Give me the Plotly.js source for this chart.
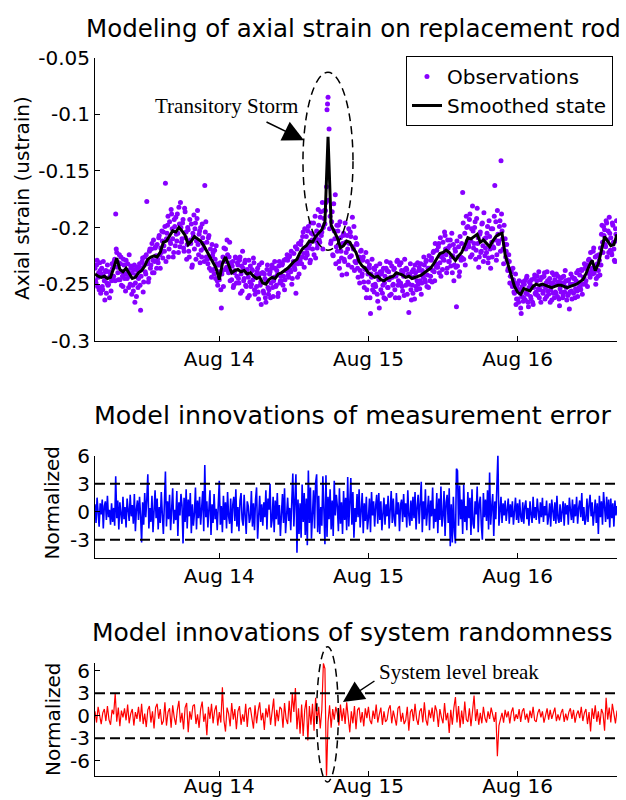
<!DOCTYPE html>
<html>
<head>
<meta charset="utf-8">
<script src="https://cdn.plot.ly/plotly-3.0.1.min.js"></script>
<style>
  html, body { margin: 0; padding: 0; background: #ffffff; }
  #chart { width: 626px; height: 800px; }
</style>
</head>
<body>
<div id="chart"></div>
<script>
// ---------------- DATA ----------------
// Series start Aug 13 04:00 and run 84 hours
const startTime = '2012-08-13T04:00:00Z';
const endTimeLabel = '2012-08-16 16:00';
const startTimeLabel = '2012-08-13 04:00';
const obsStepMin = 10;      // observations + measurement innovations: every 10 min
const obsOffsetMin = 5;     // second observation set, shifted by 5 min
const smoothStepMin = 30;   // smoothed state: every 30 min
const sysStepMin = 15;      // system innovations: every 15 min

const tickDates = ['2012-08-14', '2012-08-15', '2012-08-16'];
const tickLabels = ['Aug 14', 'Aug 15', 'Aug 16'];

const strainTickVals = [-0.3, -0.25, -0.2, -0.15, -0.1, -0.05];
const strainTickText = ['-0.3', '-0.25', '-0.2', '-0.15', '-0.1', '-0.05'];
const measTickVals = [-3, 0, 3, 6];
const measTickText = ['-3', '0', '3', '6'];
const sysTickVals = [-6, -3, 0, 3, 6];
const sysTickText = ['-6', '-3', '0', '3', '6'];
const thresholds = [3, -3];

// Observations (ustrain), 6 per hour, on the hour + 10-min steps
const observations = [
 -0.236,-0.249,-0.229,-0.244,-0.255,-0.238,
 -0.241,-0.252,-0.230,-0.247,-0.239,-0.258,
 -0.233,-0.250,-0.262,-0.240,-0.247,-0.236,
 -0.243,-0.228,-0.188,-0.222,-0.240,-0.231,
 -0.246,-0.226,-0.239,-0.252,-0.233,-0.241,
 -0.229,-0.245,-0.238,-0.224,-0.250,-0.236,
 -0.240,-0.256,-0.233,-0.249,-0.261,-0.238,
 -0.245,-0.232,-0.273,-0.236,-0.227,-0.248,
 -0.226,-0.241,-0.177,-0.230,-0.245,-0.219,
 -0.233,-0.214,-0.229,-0.240,-0.218,-0.225,
 -0.215,-0.231,-0.207,-0.236,-0.222,-0.212,
 -0.204,-0.221,-0.161,-0.210,-0.198,-0.226,
 -0.195,-0.214,-0.188,-0.210,-0.222,-0.199,
 -0.191,-0.212,-0.205,-0.182,-0.217,-0.200,
 -0.210,-0.193,-0.221,-0.186,-0.204,-0.215,
 -0.202,-0.226,-0.211,-0.197,-0.233,-0.208,
 -0.219,-0.196,-0.212,-0.185,-0.224,-0.203,
 -0.200,-0.226,-0.209,-0.218,-0.163,-0.195,
 -0.213,-0.232,-0.207,-0.226,-0.238,-0.215,
 -0.222,-0.241,-0.228,-0.216,-0.247,-0.233,
 -0.246,-0.231,-0.271,-0.238,-0.252,-0.229,
 -0.219,-0.235,-0.224,-0.240,-0.213,-0.231,
 -0.246,-0.230,-0.251,-0.238,-0.227,-0.243,
 -0.233,-0.249,-0.226,-0.241,-0.256,-0.236,
 -0.245,-0.229,-0.252,-0.237,-0.244,-0.260,
 -0.234,-0.250,-0.238,-0.227,-0.255,-0.243,
 -0.252,-0.236,-0.263,-0.241,-0.248,-0.231,
 -0.240,-0.258,-0.245,-0.266,-0.237,-0.253,
 -0.255,-0.239,-0.249,-0.233,-0.261,-0.244,
 -0.236,-0.251,-0.242,-0.258,-0.230,-0.247,
 -0.247,-0.232,-0.243,-0.255,-0.228,-0.238,
 -0.229,-0.244,-0.225,-0.239,-0.250,-0.233,
 -0.223,-0.237,-0.258,-0.219,-0.232,-0.241,
 -0.229,-0.212,-0.226,-0.204,-0.235,-0.218,
 -0.208,-0.224,-0.199,-0.215,-0.229,-0.205,
 -0.219,-0.196,-0.212,-0.227,-0.203,-0.215,
 -0.198,-0.213,-0.186,-0.204,-0.219,-0.192,
 -0.197,-0.178,-0.096,-0.085,-0.113,-0.190,
 -0.212,-0.186,-0.225,-0.203,-0.171,-0.217,
 -0.221,-0.198,-0.236,-0.209,-0.227,-0.214,
 -0.205,-0.230,-0.213,-0.241,-0.219,-0.201,
 -0.226,-0.208,-0.235,-0.217,-0.199,-0.230,
 -0.231,-0.215,-0.244,-0.226,-0.238,-0.220,
 -0.241,-0.226,-0.253,-0.237,-0.262,-0.230,
 -0.248,-0.233,-0.276,-0.244,-0.255,-0.236,
 -0.237,-0.252,-0.241,-0.265,-0.246,-0.232,
 -0.255,-0.239,-0.251,-0.262,-0.243,-0.236,
 -0.238,-0.253,-0.246,-0.231,-0.259,-0.244,
 -0.250,-0.236,-0.262,-0.241,-0.229,-0.247,
 -0.233,-0.249,-0.238,-0.256,-0.243,-0.228,
 -0.251,-0.237,-0.248,-0.275,-0.242,-0.255,
 -0.239,-0.258,-0.244,-0.233,-0.252,-0.247,
 -0.250,-0.235,-0.247,-0.259,-0.238,-0.244,
 -0.233,-0.248,-0.229,-0.242,-0.253,-0.236,
 -0.243,-0.227,-0.238,-0.221,-0.247,-0.232,
 -0.220,-0.235,-0.214,-0.231,-0.243,-0.224,
 -0.213,-0.229,-0.207,-0.224,-0.236,-0.218,
 -0.230,-0.211,-0.226,-0.240,-0.215,-0.233,
 -0.221,-0.270,-0.234,-0.217,-0.239,-0.226,
 -0.214,-0.169,-0.228,-0.205,-0.219,-0.200,
 -0.199,-0.217,-0.188,-0.212,-0.224,-0.203,
 -0.214,-0.195,-0.220,-0.183,-0.209,-0.226,
 -0.204,-0.221,-0.196,-0.230,-0.210,-0.218,
 -0.222,-0.199,-0.227,-0.208,-0.236,-0.213,
 -0.201,-0.218,-0.163,-0.195,-0.224,-0.206,
 -0.212,-0.194,-0.141,-0.203,-0.219,-0.198,
 -0.210,-0.221,-0.229,-0.236,-0.230,-0.243,
 -0.239,-0.252,-0.246,-0.258,-0.241,-0.263,
 -0.250,-0.266,-0.255,-0.271,-0.261,-0.248,
 -0.262,-0.247,-0.258,-0.243,-0.266,-0.253,
 -0.249,-0.263,-0.252,-0.268,-0.245,-0.258,
 -0.257,-0.243,-0.254,-0.262,-0.246,-0.251,
 -0.244,-0.256,-0.240,-0.253,-0.261,-0.247,
 -0.259,-0.245,-0.255,-0.264,-0.249,-0.242,
 -0.246,-0.258,-0.250,-0.243,-0.263,-0.254,
 -0.257,-0.244,-0.260,-0.249,-0.238,-0.253,
 -0.247,-0.259,-0.272,-0.250,-0.256,-0.244,
 -0.258,-0.245,-0.254,-0.240,-0.261,-0.249,
 -0.242,-0.255,-0.238,-0.250,-0.244,-0.236,
 -0.247,-0.233,-0.240,-0.228,-0.244,-0.230,
 -0.236,-0.221,-0.240,-0.226,-0.245,-0.232,
 -0.238,-0.229,-0.218,-0.206,-0.213,-0.199,
 -0.202,-0.217,-0.196,-0.211,-0.222,-0.205,
 -0.209,-0.224,-0.198,-0.219,-0.230,-0.206,
 -0.212
];

// Observations (ustrain), second set 5 min after each of the above
const observationsOffset = [
 -0.247,-0.233,-0.252,-0.240,-0.231,-0.258,
 -0.236,-0.255,-0.243,-0.264,-0.238,-0.249,
 -0.251,-0.239,-0.243,-0.256,-0.232,-0.246,
 -0.230,-0.247,-0.219,-0.235,-0.246,-0.224,
 -0.232,-0.251,-0.243,-0.228,-0.245,-0.256,
 -0.241,-0.232,-0.253,-0.243,-0.234,-0.259,
 -0.251,-0.237,-0.266,-0.242,-0.235,-0.253,
 -0.236,-0.251,-0.243,-0.230,-0.257,-0.233,
 -0.239,-0.224,-0.232,-0.248,-0.221,-0.236,
 -0.219,-0.240,-0.211,-0.230,-0.217,-0.236,
 -0.228,-0.209,-0.224,-0.218,-0.203,-0.227,
 -0.216,-0.199,-0.230,-0.205,-0.190,-0.219,
 -0.212,-0.184,-0.201,-0.226,-0.193,-0.216,
 -0.206,-0.188,-0.222,-0.197,-0.178,-0.213,
 -0.196,-0.218,-0.183,-0.209,-0.228,-0.200,
 -0.221,-0.193,-0.214,-0.235,-0.205,-0.189,
 -0.201,-0.228,-0.192,-0.215,-0.206,-0.231,
 -0.220,-0.197,-0.214,-0.230,-0.204,-0.226,
 -0.228,-0.209,-0.236,-0.219,-0.244,-0.225,
 -0.237,-0.220,-0.245,-0.232,-0.251,-0.239,
 -0.233,-0.255,-0.241,-0.226,-0.218,-0.237,
 -0.230,-0.211,-0.238,-0.226,-0.247,-0.233,
 -0.234,-0.253,-0.240,-0.226,-0.249,-0.231,
 -0.245,-0.229,-0.258,-0.234,-0.221,-0.247,
 -0.231,-0.251,-0.240,-0.262,-0.229,-0.248,
 -0.252,-0.237,-0.246,-0.231,-0.259,-0.242,
 -0.239,-0.257,-0.233,-0.251,-0.268,-0.240,
 -0.256,-0.241,-0.262,-0.247,-0.233,-0.259,
 -0.241,-0.262,-0.236,-0.253,-0.247,-0.230,
 -0.252,-0.238,-0.261,-0.234,-0.249,-0.243,
 -0.233,-0.251,-0.229,-0.246,-0.238,-0.224,
 -0.242,-0.226,-0.237,-0.221,-0.245,-0.230,
 -0.235,-0.217,-0.231,-0.244,-0.214,-0.228,
 -0.215,-0.232,-0.208,-0.223,-0.201,-0.227,
 -0.222,-0.203,-0.218,-0.231,-0.196,-0.211,
 -0.206,-0.224,-0.190,-0.209,-0.218,-0.184,
 -0.211,-0.191,-0.207,-0.178,-0.200,-0.185,
 -0.185,-0.164,-0.091,-0.176,-0.201,-0.214,
 -0.195,-0.224,-0.179,-0.210,-0.232,-0.198,
 -0.203,-0.230,-0.195,-0.221,-0.242,-0.207,
 -0.228,-0.196,-0.222,-0.207,-0.233,-0.214,
 -0.204,-0.225,-0.191,-0.219,-0.238,-0.209,
 -0.214,-0.236,-0.228,-0.249,-0.221,-0.243,
 -0.229,-0.248,-0.236,-0.222,-0.255,-0.241,
 -0.236,-0.262,-0.241,-0.228,-0.251,-0.257,
 -0.250,-0.234,-0.259,-0.243,-0.271,-0.239,
 -0.241,-0.258,-0.236,-0.249,-0.263,-0.230,
 -0.253,-0.239,-0.260,-0.244,-0.234,-0.251,
 -0.237,-0.255,-0.243,-0.230,-0.251,-0.262,
 -0.249,-0.231,-0.252,-0.240,-0.260,-0.237,
 -0.236,-0.259,-0.241,-0.250,-0.232,-0.264,
 -0.251,-0.237,-0.263,-0.240,-0.255,-0.231,
 -0.238,-0.254,-0.232,-0.249,-0.241,-0.226,
 -0.246,-0.230,-0.252,-0.236,-0.225,-0.247,
 -0.229,-0.248,-0.222,-0.239,-0.214,-0.235,
 -0.233,-0.217,-0.240,-0.209,-0.226,-0.237,
 -0.228,-0.204,-0.219,-0.240,-0.211,-0.230,
 -0.216,-0.234,-0.205,-0.225,-0.247,-0.219,
 -0.235,-0.212,-0.226,-0.243,-0.208,-0.229,
 -0.227,-0.196,-0.218,-0.233,-0.190,-0.212,
 -0.215,-0.193,-0.226,-0.201,-0.181,-0.218,
 -0.200,-0.228,-0.192,-0.214,-0.235,-0.206,
 -0.222,-0.197,-0.216,-0.187,-0.225,-0.209,
 -0.205,-0.231,-0.194,-0.219,-0.201,-0.226,
 -0.217,-0.190,-0.211,-0.229,-0.185,-0.214,
 -0.199,-0.221,-0.188,-0.210,-0.232,-0.215,
 -0.226,-0.215,-0.238,-0.224,-0.249,-0.237,
 -0.250,-0.236,-0.257,-0.249,-0.268,-0.253,
 -0.263,-0.247,-0.258,-0.276,-0.252,-0.265,
 -0.250,-0.264,-0.245,-0.259,-0.270,-0.248,
 -0.261,-0.246,-0.266,-0.253,-0.242,-0.259,
 -0.247,-0.260,-0.239,-0.255,-0.266,-0.244,
 -0.258,-0.243,-0.263,-0.249,-0.239,-0.256,
 -0.248,-0.266,-0.251,-0.240,-0.258,-0.262,
 -0.257,-0.241,-0.261,-0.248,-0.269,-0.245,
 -0.249,-0.262,-0.243,-0.257,-0.247,-0.264,
 -0.260,-0.246,-0.257,-0.241,-0.263,-0.250,
 -0.245,-0.262,-0.247,-0.256,-0.238,-0.253,
 -0.253,-0.237,-0.259,-0.244,-0.232,-0.250,
 -0.236,-0.252,-0.229,-0.241,-0.222,-0.238,
 -0.241,-0.218,-0.234,-0.250,-0.225,-0.243,
 -0.224,-0.242,-0.233,-0.198,-0.222,-0.207,
 -0.215,-0.194,-0.226,-0.203,-0.191,-0.220,
 -0.222,-0.196,-0.213,-0.229,-0.201,-0.194
];

// Smoothed state (ustrain), every 30 min
const smoothedState = [
 -0.241,-0.243,-0.244,-0.243,-0.245,-0.244,-0.236,-0.227,-0.237,-0.239,
 -0.236,-0.241,-0.245,-0.244,-0.240,-0.238,-0.234,-0.228,-0.226,-0.225,
 -0.226,-0.222,-0.213,-0.212,-0.207,-0.203,-0.204,-0.200,-0.203,-0.207,
 -0.215,-0.212,-0.208,-0.210,-0.212,-0.216,-0.221,-0.226,-0.230,-0.236,
 -0.246,-0.232,-0.226,-0.233,-0.240,-0.238,-0.237,-0.239,-0.238,-0.241,
 -0.240,-0.243,-0.245,-0.244,-0.249,-0.250,-0.246,-0.244,-0.245,-0.241,
 -0.240,-0.238,-0.236,-0.233,-0.230,-0.228,-0.222,-0.218,-0.216,-0.212,
 -0.213,-0.208,-0.205,-0.202,-0.195,-0.120,-0.198,-0.203,-0.209,-0.218,
 -0.216,-0.212,-0.213,-0.218,-0.222,-0.230,-0.234,-0.236,-0.240,-0.242,
 -0.244,-0.243,-0.246,-0.247,-0.245,-0.244,-0.243,-0.240,-0.241,-0.242,
 -0.244,-0.243,-0.245,-0.244,-0.243,-0.242,-0.240,-0.238,-0.236,-0.232,
 -0.228,-0.223,-0.222,-0.220,-0.222,-0.226,-0.229,-0.225,-0.222,-0.216,
 -0.209,-0.210,-0.208,-0.206,-0.213,-0.211,-0.214,-0.217,-0.212,-0.208,
 -0.206,-0.205,-0.224,-0.234,-0.244,-0.252,-0.257,-0.259,-0.254,-0.255,
 -0.256,-0.252,-0.250,-0.251,-0.250,-0.251,-0.252,-0.253,-0.252,-0.251,
 -0.251,-0.252,-0.253,-0.252,-0.251,-0.250,-0.248,-0.246,-0.241,-0.234,
 -0.229,-0.238,-0.232,-0.220,-0.208,-0.212,-0.216,-0.215,-0.206
];

// Normalized innovations of measurement error, every 10 min
const measurementInnovations = [
 0.8,-1.2,1.5,-0.4,-1.6,0.9,
 -0.3,1.3,-1.8,0.6,1.1,-0.9,
 1.7,-0.6,0.2,-1.4,0.9,-1.1,
 0.4,-1.5,3.8,-0.7,1.2,-1.9,
 1.0,-0.2,-1.3,1.6,-0.8,0.5,
 -1.7,1.4,0.1,-1.0,1.8,-0.5,
 0.7,-1.3,1.9,-2.1,0.3,1.2,
 -0.9,1.6,-0.4,-3.3,1.0,-1.4,
 2.0,-0.6,1.3,4.0,-1.8,0.4,
 -1.1,1.7,-2.2,0.8,2.3,-0.7,
 1.4,-1.9,0.5,-1.2,2.1,-0.3,
 -2.4,0.9,4.3,-1.6,1.1,-0.8,
 1.8,-2.0,0.6,2.5,-1.3,0.2,
 -0.9,2.2,-2.6,1.0,-0.4,1.9,
 0.7,-3.4,1.5,-1.1,2.4,-1.8,
 1.3,-0.5,2.0,-2.3,0.8,-1.5,
 -0.2,2.6,-1.9,1.2,-0.7,1.6,
 -1.4,0.9,2.2,-2.1,5.0,-0.6,
 1.1,-1.7,0.4,2.3,-2.5,0.8,
 -1.2,1.9,-0.8,0.3,-2.0,1.5,
 3.3,-1.4,0.6,-2.2,1.7,-0.9,
 1.0,-1.8,2.1,-0.5,-1.3,1.4,
 -2.3,0.7,1.6,-1.0,2.4,-1.6,
 0.5,-2.1,1.2,2.0,-0.8,-1.5,
 1.8,-0.4,-2.4,1.1,0.6,-1.2,
 -0.7,2.2,-1.6,0.9,-2.0,1.3,
 2.6,-2.9,0.3,1.7,-1.1,0.8,
 -1.5,1.0,-0.6,2.3,-1.9,1.4,
 0.2,3.0,-1.7,-0.9,1.6,-2.2,
 1.2,-0.8,2.0,-1.4,0.7,-2.6,
 -0.3,1.9,-1.2,2.5,-2.3,0.6,
 1.5,-1.0,0.4,-2.0,2.2,4.1,
 -1.6,2.7,4.0,-4.4,1.3,-2.4,
 0.9,-2.8,2.9,-1.1,2.0,-2.5,
 1.4,-3.6,4.4,-1.2,2.6,-2.9,
 -0.6,2.3,-1.8,3.1,4.0,-2.2,
 1.7,-2.4,0.5,-1.5,3.8,-1.0,
 -3.5,3.9,-2.7,1.6,-0.8,2.4,
 -1.9,1.2,-2.6,3.3,-0.4,1.8,
 0.6,-2.1,2.5,-1.3,1.0,-2.4,
 2.2,-0.9,1.5,-2.0,3.7,-1.6,
 0.8,3.6,-1.4,2.1,-2.8,0.4,
 -1.1,1.9,-0.6,2.4,-1.7,1.2,
 2.0,-2.3,0.9,-1.0,1.6,-1.9,
 -0.7,1.4,-2.2,2.1,-0.4,1.1,
 -1.6,0.6,1.8,-1.3,2.0,-0.9,
 1.1,-2.0,0.3,1.5,-1.4,0.8,
 -0.5,1.7,-1.8,0.9,2.2,-1.2,
 1.4,-0.8,-1.6,2.0,-0.3,1.0,
 -2.1,0.7,1.3,-1.1,1.9,-0.6,
 0.9,-1.7,2.3,-0.4,-1.5,1.2,
 -1.0,1.6,-0.7,2.1,-1.9,0.5,
 1.8,-1.3,0.4,3.2,-2.2,1.1,
 -0.8,2.4,-1.5,0.6,1.7,-2.0,
 1.2,-0.5,2.6,-1.8,0.3,-1.1,
 2.0,-2.3,1.4,-0.9,2.7,-1.6,
 -0.4,2.2,-2.6,1.0,1.8,-1.2,
 2.5,-3.7,0.8,-3.3,1.6,-2.1,
 -3.4,4.6,4.4,-1.5,2.8,-0.8,
 1.3,-2.4,2.9,-1.1,0.6,-2.0,
 2.1,-0.7,1.5,-2.5,2.4,-1.3,
 -1.8,1.1,-0.3,2.7,-2.2,0.9,
 1.6,-1.4,-3.0,2.0,-0.6,1.3,
 -1.0,2.3,-1.9,4.2,-1.4,0.5,
 1.9,-2.6,1.1,-0.8,2.2,6.1,
 -1.5,0.7,1.6,-1.2,0.9,-0.4,
 1.2,-1.0,0.5,1.4,-1.3,0.8,
 -0.6,1.1,-1.4,0.3,1.5,-0.9,
 0.9,-1.2,1.3,-0.5,-1.1,1.0,
 -1.3,0.6,1.2,-0.8,0.4,-1.5,
 1.1,-0.3,-1.2,1.6,-0.7,0.5,
 -0.9,1.4,0.2,-1.3,1.0,-0.6,
 1.5,-1.1,0.6,-0.4,1.2,-1.4,
 -0.5,0.9,-1.6,1.3,0.1,-1.0,
 1.0,-1.3,1.7,-0.7,-1.2,0.8,
 -1.1,0.4,1.1,-1.5,0.9,-0.3,
 0.7,-1.4,1.5,0.2,-0.9,1.3,
 -1.2,0.8,-0.5,1.6,-1.3,0.4,
 1.2,-0.6,2.0,-1.0,0.5,-1.4,
 -0.8,1.4,-1.1,0.7,1.8,-0.5,
 1.0,-1.5,0.4,1.3,-1.2,0.9,
 -2.4,1.7,-0.6,1.1,-1.4,2.1,
 0.5,-1.1,1.6,-0.8,1.3,-1.7,
 1.4,-0.7,0.9,-1.6,1.2,-0.4,
 0.6
];

// Normalized innovations of system randomness, every 15 min
const systemInnovations = [
 0.6,-0.9,1.2,-0.3,   -1.1,0.4,0.9,-0.7,   1.3,-0.5,-1.2,0.8,   0.2,3.0,-0.8,1.1,
 -1.4,0.7,-0.2,1.0,   -0.6,1.5,-1.0,0.3,   0.9,-1.3,0.5,-0.4,   1.2,-0.8,1.6,-1.1,
 0.3,-1.5,0.8,1.3,    -0.9,0.6,-1.7,1.1,   1.6,-0.4,0.9,-1.2,   -0.7,1.8,-1.3,0.5,
 1.0,-1.6,1.4,-0.2,   -1.2,0.8,2.0,-0.9,   0.4,-1.8,1.1,1.7,    -2.2,0.6,-0.5,1.3,
 1.5,-1.1,0.2,-1.6,   0.9,1.9,-0.8,0.3,    -2.6,1.2,-0.4,1.6,   -1.0,0.7,1.4,-1.3,
 0.5,-0.9,3.8,-0.6,   -2.1,1.1,0.3,-1.4,   1.7,-0.5,0.9,-1.8,   0.6,1.3,-1.2,0.2,
 -0.8,1.6,-1.5,0.9,   1.1,-0.3,-1.7,1.4,   -1.0,0.7,1.8,-0.6,   0.4,-1.9,1.0,-0.2,
 1.5,-1.2,0.3,2.3,    -1.4,0.8,-0.7,1.2,   0.9,-1.6,1.7,-0.4,   -1.1,2.0,-0.9,3.0,
 0.5,3.7,-1.8,1.0,    -2.4,1.5,-2.7,0.8,   2.1,-3.3,1.3,-1.2,   1.6,-2.0,2.4,-0.8,
 1.2,-1.7,0.8,7.0,    6.3,-8.5,-0.8,1.4,   -1.6,0.9,-0.5,1.2,   0.3,-1.3,1.5,-0.7,
 1.0,-1.1,1.8,-0.4,   -2.2,0.6,-1.0,1.3,   -1.8,0.8,1.1,-0.9,   0.5,-1.4,1.0,-0.3,
 1.2,-0.6,-1.1,0.7,   -0.4,1.5,-0.9,0.2,   1.1,-1.2,0.6,-0.8,   -0.5,0.9,1.4,-1.0,
 0.7,-0.3,-1.3,1.0,   1.3,-0.8,0.4,-1.1,   -0.6,1.2,-2.0,0.5,   0.9,-0.7,1.6,-0.4,
 -1.2,0.6,1.0,-0.9,   1.8,-0.5,-1.3,0.8,   -0.3,1.1,-0.8,1.4,   0.6,-1.5,0.9,-0.2,
 -1.0,1.7,-0.6,0.4,   -2.3,0.8,-1.2,1.1,   2.5,-0.9,1.3,-1.6,   0.7,-1.1,1.9,-0.5,
 -0.8,1.0,-1.4,0.6,   2.7,-0.7,0.9,-1.2,   0.4,-1.0,1.2,-0.3,   -0.9,0.6,-0.4,1.1,
 0.3,-0.8,0.5,-5.4,   -1.3,-0.6,0.4,-0.9,  0.8,-0.2,0.6,-1.0,   0.5,1.1,-0.7,0.2,
 -0.4,0.9,-0.8,0.6,   1.0,-0.5,0.3,-0.9,   0.7,-0.3,1.2,-0.6,   -0.8,0.4,0.9,-0.2,
 0.6,-0.9,0.3,1.0,    -0.5,0.8,-0.4,0.5,   1.1,-0.7,0.2,-0.6,   0.4,0.9,-0.8,0.3,
 -0.6,0.5,1.0,-0.4,   0.8,-0.9,0.2,0.7,    -0.3,1.2,-0.7,0.4,   0.9,-1.1,0.5,-2.1,
 1.0,-0.4,1.4,-0.8,   0.6,-1.2,0.9,0.3,    -2.0,2.4,-0.5,1.1,   -0.9,1.6,0.4,-1.0,
 0.7
];

// ---------------- TIME AXES ----------------
const t0 = Date.parse(startTime);
const MIN = 60000;
const obsTimes = observations.map((_, i) => t0 + i * obsStepMin * MIN);
const obsOffsetTimes = observationsOffset.map((_, i) => t0 + (obsOffsetMin + i * obsStepMin) * MIN);
const smoothTimes = smoothedState.map((_, i) => t0 + i * smoothStepMin * MIN);
const measTimes = measurementInnovations.map((_, i) => t0 + i * obsStepMin * MIN);
const sysTimes = systemInnovations.map((_, i) => t0 + i * sysStepMin * MIN);

// ---------------- STYLE ----------------
const FONT = 'DejaVu Sans, Arial, sans-serif';
const SERIF = 'Liberation Serif, Times New Roman, serif';
const purple = '#8800ff';

const traces = [
  { type: 'scatter', mode: 'markers', name: 'Observations',
    x: obsTimes.concat(obsOffsetTimes), y: observations.concat(observationsOffset),
    xaxis: 'x', yaxis: 'y',
    marker: { color: purple, size: 5 } },
  { type: 'scatter', mode: 'lines', name: 'Smoothed state',
    x: smoothTimes, y: smoothedState, xaxis: 'x', yaxis: 'y',
    line: { color: '#000000', width: 3 } },
  { type: 'scatter', mode: 'lines', name: 'Measurement innovations', showlegend: false,
    x: measTimes, y: measurementInnovations, xaxis: 'x2', yaxis: 'y2',
    line: { color: '#0000ff', width: 1.6 } },
  { type: 'scatter', mode: 'lines', name: 'System innovations', showlegend: false,
    x: sysTimes, y: systemInnovations, xaxis: 'x3', yaxis: 'y3',
    line: { color: '#ff0000', width: 1.2 } }
];

function xAxis(anchor, standoff) {
  return {
    type: 'date', anchor: anchor, domain: [0, 1],
    range: [startTimeLabel, endTimeLabel],
    tickmode: 'array', tickvals: tickDates, ticktext: tickLabels,
    ticks: 'inside', ticklen: 5, tickcolor: '#000', tickwidth: 1,
    ticklabelstandoff: standoff,
    showline: true, linecolor: '#000', linewidth: 1,
    showgrid: false, zeroline: false,
    tickfont: { family: FONT, size: 20, color: '#000' }
  };
}
function yAxis(anchor, domain, range, vals, text) {
  return {
    anchor: anchor, domain: domain, range: range,
    tickmode: 'array', tickvals: vals, ticktext: text,
    ticks: 'inside', ticklen: 5, tickcolor: '#000', tickwidth: 1,
    showline: true, linecolor: '#000', linewidth: 1,
    showgrid: false, zeroline: false,
    tickfont: { family: FONT, size: 20, color: '#000' }
  };
}

const shapes = [];
thresholds.forEach(v => {
  shapes.push({ type: 'line', xref: 'x2 domain', yref: 'y2', x0: 0, x1: 1, y0: v, y1: v,
    line: { color: '#000', width: 2, dash: '10px,5px' } });
  shapes.push({ type: 'line', xref: 'x3 domain', yref: 'y3', x0: 0, x1: 1, y0: v, y1: v,
    line: { color: '#000', width: 2, dash: '10px,5px' } });
});
// ellipse around the transitory storm
shapes.push({ type: 'circle', xref: 'x', yref: 'y',
  x0: '2012-08-14 13:28', x1: '2012-08-14 21:31', y0: -0.220, y1: -0.063,
  line: { color: '#000', width: 1.5, dash: '8px,5px' } });
// ellipse around the system level break
shapes.push({ type: 'circle', xref: 'paper', yref: 'paper',
  x0: 0.4247, x1: 0.4661, y0: 0.0225, y1: 0.1916,
  line: { color: '#000', width: 1.5, dash: '8px,5px' } });

const annotations = [
  { text: 'Modeling of axial strain on replacement rod', xref: 'paper', yref: 'paper',
    x: 0.4952, y: 0.965, xanchor: 'center', yanchor: 'middle', showarrow: false,
    font: { family: FONT, size: 24.5, color: '#000' } },
  { text: 'Model innovations of measurement error', xref: 'paper', yref: 'paper',
    x: 0.4933, y: 0.48125, xanchor: 'center', yanchor: 'middle', showarrow: false,
    font: { family: FONT, size: 25.3, color: '#000' } },
  { text: 'Model innovations of system randomness', xref: 'paper', yref: 'paper',
    x: 0.4933, y: 0.21, xanchor: 'center', yanchor: 'middle', showarrow: false,
    font: { family: FONT, size: 25, color: '#000' } },
  { text: 'Axial strain (ustrain)', xref: 'paper', yref: 'paper', textangle: -90,
    x: -0.1398, y: 0.7525, xanchor: 'center', yanchor: 'middle', showarrow: false,
    font: { family: FONT, size: 20, color: '#000' } },
  { text: 'Normalized', xref: 'paper', yref: 'paper', textangle: -90,
    x: -0.0805, y: 0.3719, xanchor: 'center', yanchor: 'middle', showarrow: false,
    font: { family: FONT, size: 20, color: '#000' } },
  { text: 'Normalized', xref: 'paper', yref: 'paper', textangle: -90,
    x: -0.0805, y: 0.10125, xanchor: 'center', yanchor: 'middle', showarrow: false,
    font: { family: FONT, size: 20, color: '#000' } },
  { text: 'Transitory Storm', xref: 'paper', yref: 'paper',
    x: 0.251, y: 0.8675, xanchor: 'center', yanchor: 'middle', showarrow: false,
    font: { family: SERIF, size: 21, color: '#000' } },
  { text: '', xref: 'x', yref: 'y', x: '2012-08-14 13:38', y: -0.123,
    showarrow: true, ax: -39, ay: -19, arrowhead: 2, arrowsize: 2.8, arrowwidth: 1.5,
    arrowcolor: '#000', standoff: 0 },
  { text: 'System level break', xref: 'paper', yref: 'paper',
    x: 0.6973, y: 0.16, xanchor: 'center', yanchor: 'middle', showarrow: false,
    font: { family: SERIF, size: 21, color: '#000' } },
  { text: '', xref: 'x3', yref: 'y3', x: '2012-08-14 19:54', y: 1.84,
    showarrow: true, ax: 33, ay: -22, arrowhead: 2, arrowsize: 2.8, arrowwidth: 1.5,
    arrowcolor: '#000', standoff: 0 }
];

const layout = {
  width: 626, height: 800,
  margin: { l: 95, r: 9, t: 0, b: 0, pad: 0 },
  paper_bgcolor: '#ffffff', plot_bgcolor: '#ffffff',
  font: { family: FONT, size: 20, color: '#000' },
  showlegend: true,
  legend: {
    x: 0.9923, y: 0.93, xanchor: 'right', yanchor: 'top',
    bgcolor: '#ffffff', bordercolor: '#000', borderwidth: 1,
    font: { family: FONT, size: 20, color: '#000' }, tracegroupgap: 0
  },
  xaxis: xAxis('y', 0),
  yaxis: yAxis('x', [0.574, 0.928], [-0.3, -0.05], strainTickVals, strainTickText),
  xaxis2: xAxis('y2', 0),
  yaxis2: yAxis('x2', [0.3021, 0.4304], [-5, 6], measTickVals, measTickText),
  xaxis3: xAxis('y3', -8),
  yaxis3: yAxis('x3', [0.0302, 0.1709], [-8, 7], sysTickVals, sysTickText),
  shapes: shapes,
  annotations: annotations,
  hovermode: false
};

Plotly.newPlot('chart', traces, layout, { staticPlot: true, displayModeBar: false });
</script>
</body>
</html>
